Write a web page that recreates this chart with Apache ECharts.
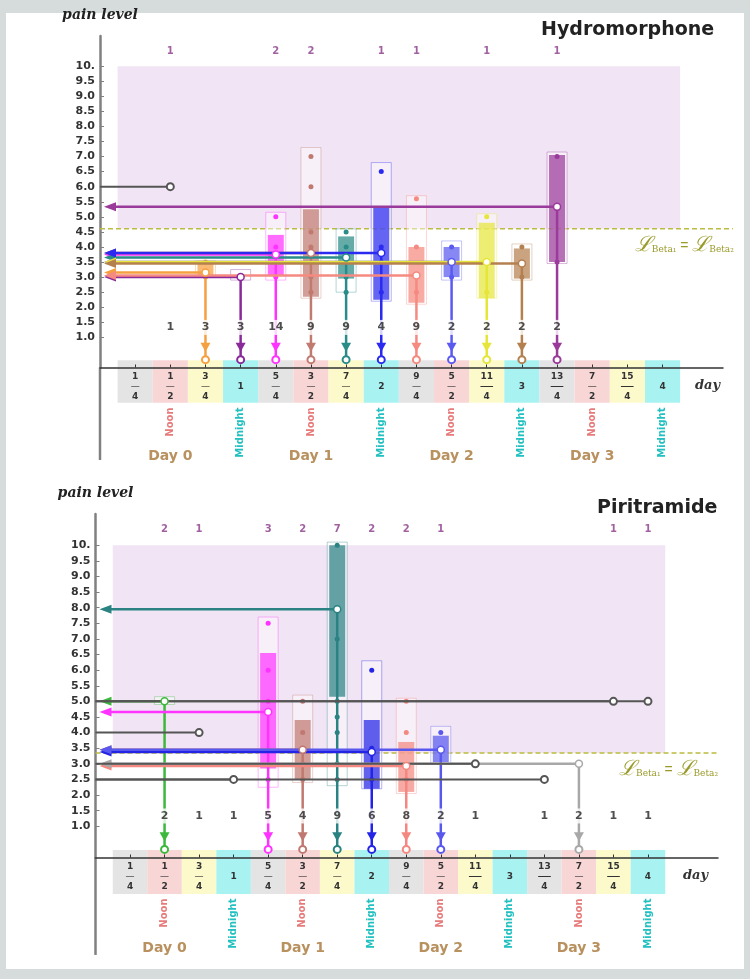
<!DOCTYPE html>
<html>
<head>
<meta charset="utf-8">
<title>Pain level</title>
<script src="https://cdn.jsdelivr.net/npm/echarts@6/dist/echarts.min.js"></script>
<style>
  html, body { margin: 0; padding: 0; background: #d6dbdb; }
  #panel { position: absolute; left: 6px; top: 13px; width: 738px; height: 956px; background: #fff; }
  #chart { position: absolute; left: 0; top: 0; width: 750px; height: 979px; }
</style>
</head>
<body>
<div id="panel"></div>
<div id="chart"></div>
<script>
// shared axes
const xTicks = [0.25, 0.5, 0.75, 1, 1.25, 1.5, 1.75, 2, 2.25, 2.5, 2.75, 3, 3.25, 3.5, 3.75, 4];
const xTickLabels = ["1/4", "1/2", "3/4", "1", "5/4", "3/2", "7/4", "2", "9/4", "5/2", "11/4", "3", "13/4", "7/2", "15/4", "4"];
const yTicks = [1, 1.5, 2, 2.5, 3, 3.5, 4, 4.5, 5, 5.5, 6, 6.5, 7, 7.5, 8, 8.5, 9, 9.5, 10];
const dayMarks = [0.5, 1, 1.5, 2, 2.5, 3, 3.5, 4];
const dayMarkLabels = ["Noon", "Midnight", "Noon", "Midnight", "Noon", "Midnight", "Noon", "Midnight"];
const dayCenters = [0.5, 1.5, 2.5, 3.5];
const dayLabels = ["Day 0", "Day 1", "Day 2", "Day 3"];

// Hydromorphone
const hydroTimes = [0.75, 1, 1.25, 1.5, 1.75, 2, 2.25, 2.5, 2.75, 3, 3.25];
const hydroMedian = [3.15, 3.0, 3.75, 3.8, 3.65, 3.8, 3.05, 3.5, 3.5, 3.45, 5.33];
const hydroQ1 = [3.0, 3.0, 3.05, 2.35, 2.95, 2.25, 2.15, 3.0, 2.3, 2.95, 3.5];
const hydroQ3 = [3.45, 3.0, 4.4, 5.25, 4.35, 5.35, 4.0, 4.0, 4.8, 3.95, 7.05];
const hydroLow = [3.0, 2.9, 2.9, 2.3, 2.5, 2.2, 2.1, 2.9, 2.3, 2.9, 3.45];
const hydroHigh = [3.55, 3.25, 5.15, 7.3, 4.6, 6.8, 5.7, 4.2, 5.1, 4.1, 7.15];
const hydroDots = [[3.5, 3.0], [], [5.0, 4.0, 3.0], [7.0, 6.0, 4.5, 4.0, 3.0, 2.5], [4.5, 4.0, 3.0, 2.5],
  [6.5, 4.0, 3.5, 2.5], [5.6, 4.0, 2.5], [4.0, 3.0], [5.0, 2.5], [4.0, 3.0], [7.0, 3.5]];
const hydroColors = ["#f5a040", "#8a2a9a", "#ff33ff", "#c07a70", "#2a8c88", "#2a2af0", "#f58a80", "#5a5af0", "#e6e63a", "#b58050", "#9a3a9a"];
const hydroSingleX = [0.5];
const hydroSingleY = [6.0];
const hydroCountX = [0.5, 0.75, 1, 1.25, 1.5, 1.75, 2, 2.25, 2.5, 2.75, 3, 3.25];
const hydroCountN = [1, 3, 3, 14, 9, 9, 4, 9, 2, 2, 2, 2];
const hydroTopX = [0.5, 1.25, 1.5, 2, 2.25, 2.75, 3.25];
const hydroTopN = [1, 2, 2, 1, 1, 1, 1];
const hydroThreshold = 4.6;

// Piritramide
const piriTimes = [0.5, 1.25, 1.5, 1.75, 2, 2.25, 2.5, 3.5];
const piriMedian = [5.0, 4.66, 3.45, 7.95, 3.38, 2.93, 3.45, 3.0];
const piriQ1 = [5.0, 2.85, 2.5, 5.15, 2.2, 2.1, 3.05, 3.0];
const piriQ3 = [5.0, 6.55, 4.4, 10.0, 4.4, 3.7, 3.9, 3.0];
const piriLow = [4.9, 2.25, 2.4, 2.3, 2.2, 2.05, 3.0, 3.0];
const piriHigh = [5.15, 7.7, 5.2, 10.1, 6.3, 5.1, 4.2, 3.0];
const piriDots = [[], [7.5, 6.0, 5.0, 2.5], [5.0, 4.0, 3.0, 2.5], [10, 7.0, 5.0, 4.5, 4.0, 3.0, 2.5],
  [6.0, 3.5, 2.5], [5.0, 4.0, 2.5], [4.0, 3.5], []];
const piriColors = ["#3cb83c", "#ff33ff", "#c07870", "#2a8282", "#2424e6", "#f48880", "#5858ee", "#a8a8a8"];
const piriSingleX = [0.75, 1, 2.75, 3.25, 3.75, 4];
const piriSingleY = [4.0, 2.5, 3.0, 2.5, 5.0, 5.0];
const piriCountX = [0.5, 0.75, 1, 1.25, 1.5, 1.75, 2, 2.25, 2.5, 2.75, 3.25, 3.5, 3.75, 4];
const piriCountN = [2, 1, 1, 5, 4, 9, 6, 8, 2, 1, 1, 2, 1, 1];
const piriTopX = [0.5, 0.75, 1.25, 1.5, 1.75, 2, 2.25, 2.5, 3.75, 4];
const piriTopN = [2, 1, 3, 2, 7, 2, 2, 1, 1, 1];
const piriThreshold = 3.35;

const cellColors = ["#e4e4e4", "#f8d6d6", "#fcfacb", "#a8f2f2"];
const COUNT_ROW = 1.33;
const TOP_ROW = 10.5;

function fracLabel(v) {
  const i = xTicks.findIndex(t => Math.abs(t - v) < 1e-6);
  const s = i < 0 ? "" : xTickLabels[i];
  const parts = s.split("/");
  if (parts.length === 1) return "{i|" + s + "}";
  const bar = parts[0].length > 1 ? "{bb|—}" : "{b|—}";
  return "{n|" + parts[0] + "}\n" + bar + "\n{d|" + parts[1] + "}";
}
const numStyle = { fontSize: 9, fontWeight: "bold", lineHeight: 10, color: "#333" };
const fracRich = {
  n: numStyle, d: numStyle,
  b: { fontSize: 9, lineHeight: 10, color: "#333" },
  bb: { fontSize: 14, lineHeight: 10, color: "#333" },
  i: { fontSize: 9, fontWeight: "bold", lineHeight: 30, color: "#333" }
};

function groupRenderer(colors, dots) {
  return function (params, api) {
    const i = params.dataIndex;
    const x = api.value(0), med = api.value(1), q1 = api.value(2), q3 = api.value(3), lo = api.value(4), hi = api.value(5);
    const c = colors[i];
    const P = (a, b) => api.coord([a, b]);
    const pm = P(x, med), pz = P(0, med);
    const ch = [];
    if (hi > lo) {
      const a = P(x, hi), b = P(x, lo);
      ch.push({ type: "rect", z2: 1, shape: { x: a[0] - 10, y: a[1], width: 20, height: b[1] - a[1] },
        style: { fill: "rgba(255,255,255,0.45)", stroke: echarts.color.modifyAlpha(c, 0.35), lineWidth: 1 } });
    }
    if (q3 > q1) {
      const a = P(x, q3), b = P(x, q1);
      ch.push({ type: "rect", z2: 2, shape: { x: a[0] - 8, y: a[1], width: 16, height: b[1] - a[1] },
        style: { fill: echarts.color.modifyAlpha(c, 0.72) } });
    }
    dots[i].forEach(d => {
      const p = P(x, d);
      ch.push({ type: "circle", z2: 3, shape: { cx: p[0], cy: p[1], r: 2.5 }, style: { fill: c } });
    });
    const tip = pz[0] + 4;
    ch.push({ type: "line", z2: 4, shape: { x1: tip + 10, y1: pm[1], x2: pm[0], y2: pm[1] }, style: { stroke: c, lineWidth: 2.5 } });
    ch.push({ type: "polygon", z2: 4, shape: { points: [[tip, pm[1]], [tip + 12, pm[1] - 4.5], [tip + 12, pm[1] + 4.5]] }, style: { fill: c } });
    const pa = P(x, 0.52), pc = P(x, 0.26);
    ch.push({ type: "line", z2: 4, shape: { x1: pm[0], y1: pm[1], x2: pm[0], y2: pc[1] }, style: { stroke: c, lineWidth: 2.5 } });
    ch.push({ type: "polygon", z2: 4, shape: { points: [[pa[0], pa[1]], [pa[0] - 5, pa[1] - 9], [pa[0] + 5, pa[1] - 9]] }, style: { fill: c } });
    ch.push({ type: "circle", z2: 5, shape: { cx: pc[0], cy: pc[1], r: 3.5 }, style: { fill: "#fff", stroke: c, lineWidth: 2 } });
    ch.push({ type: "circle", z2: 6, shape: { cx: pm[0], cy: pm[1], r: 3.5 }, style: { fill: "#fff", stroke: c, lineWidth: 1.5 } });
    return { type: "group", children: ch };
  };
}

function singleRenderer(params, api) {
  const x = api.value(0), y = api.value(1);
  const p0 = api.coord([0, y]), p = api.coord([x, y]);
  return { type: "group", children: [
    { type: "line", z2: 4, shape: { x1: p0[0], y1: p0[1], x2: p[0], y2: p[1] }, style: { stroke: "#555", lineWidth: 2 } },
    { type: "circle", z2: 6, shape: { cx: p[0], cy: p[1], r: 3.5 }, style: { fill: "#fff", stroke: "#555", lineWidth: 2 } }
  ] };
}

const panels = [
  {
    title: "Hydromorphone", titleLeft: 536, titleTop: 16,
    grid: { left: 100, top: 36, width: 623, height: 331.5, outerBoundsMode: "none" },
    xMax: 4.43, yExt: -3.07, dayNameGap: -28, markMargin: 40, dayMargin: 82,
    times: hydroTimes, median: hydroMedian, q1: hydroQ1, q3: hydroQ3, low: hydroLow, high: hydroHigh,
    dots: hydroDots, colors: hydroColors, singleX: hydroSingleX, singleY: hydroSingleY,
    countX: hydroCountX, countN: hydroCountN, topX: hydroTopX, topN: hydroTopN, threshold: hydroThreshold
  },
  {
    title: "Piritramide", titleLeft: 592, titleTop: 494,
    grid: { left: 95.5, top: 514, width: 622.5, height: 343.5, outerBoundsMode: "none" },
    xMax: 4.507, yExt: -3.12, dayNameGap: -35, markMargin: 41, dayMargin: 84,
    times: piriTimes, median: piriMedian, q1: piriQ1, q3: piriQ3, low: piriLow, high: piriHigh,
    dots: piriDots, colors: piriColors, singleX: piriSingleX, singleY: piriSingleY,
    countX: piriCountX, countN: piriCountN, topX: piriTopX, topN: piriTopN, threshold: piriThreshold
  }
];

const option = {
  animation: false,
  textStyle: { fontFamily: "DejaVu Sans" },
  title: [], grid: [], xAxis: [], yAxis: [], series: []
};

panels.forEach((cfg, k) => {
  const xi = 3 * k;
  option.title.push({ text: cfg.title, left: cfg.titleLeft, top: cfg.titleTop,
    textStyle: { fontSize: 19, fontWeight: "bold", color: "#222", fontFamily: "DejaVu Sans" } });
  option.grid.push(cfg.grid);
  option.xAxis.push({
    gridIndex: k, type: "value", min: 0, max: cfg.xMax, position: "bottom", z: 3,
    name: "day", nameLocation: "end", nameGap: cfg.dayNameGap,
    nameTextStyle: { fontFamily: "DejaVu Serif", fontStyle: "italic", fontWeight: "bold", fontSize: 13,
      color: "#333", verticalAlign: "top", padding: [12, 0, 0, 0] },
    axisLine: { onZero: false, lineStyle: { color: "#333", width: 1.5 } },
    axisTick: { customValues: xTicks, inside: true, length: 3, lineStyle: { color: "#333" } },
    axisLabel: { customValues: xTicks, margin: 4, formatter: fracLabel, rich: fracRich },
    splitLine: { show: false }
  });
  option.xAxis.push({
    gridIndex: k, type: "value", min: 0, max: cfg.xMax, position: "bottom",
    axisLine: { show: false, onZero: false }, axisTick: { show: false }, splitLine: { show: false },
    axisLabel: { customValues: dayMarks, rotate: 90, margin: cfg.markMargin,
      formatter: v => {
        const s = dayMarkLabels[dayMarks.indexOf(v)];
        return s === "Noon" ? "{noon|Noon}" : "{mid|" + s + "}";
      },
      rich: { noon: { fontSize: 10, fontWeight: "bold", color: "#e77b7b" },
              mid: { fontSize: 10, fontWeight: "bold", color: "#22c0c0" } } }
  });
  option.xAxis.push({
    gridIndex: k, type: "value", min: 0, max: cfg.xMax, position: "bottom",
    axisLine: { show: false, onZero: false }, axisTick: { show: false }, splitLine: { show: false },
    axisLabel: { customValues: dayCenters, margin: cfg.dayMargin,
      formatter: v => dayLabels[dayCenters.indexOf(v)],
      fontSize: 14, fontWeight: "bold", color: "#b8915f" }
  });
  option.yAxis.push({
    gridIndex: k, type: "value", min: 0, max: 11,
    name: "pain level", nameLocation: "end", nameGap: 14,
    nameTextStyle: { fontFamily: "DejaVu Serif", fontStyle: "italic", fontWeight: "bold", fontSize: 14, color: "#222" },
    axisLine: { show: true, onZero: false, lineStyle: { color: "#808080", width: 2.5 } },
    axisTick: { customValues: yTicks, inside: true, length: 4, lineStyle: { color: "#808080" } },
    axisLabel: { customValues: yTicks, margin: 5, fontSize: 11, fontWeight: "bold", color: "#333",
      formatter: v => (v === 10 ? "10." : v.toFixed(1)) },
    splitLine: { show: false }
  });

  // shaded region, threshold and axis extension
  option.series.push({
    type: "custom", xAxisIndex: xi, yAxisIndex: k, z: 1, silent: true, data: [[0, 0]],
    renderItem: (params, api) => {
      const P = (a, b) => api.coord([a, b]);
      const r1 = P(0.125, 10), r2 = P(4.125, cfg.threshold);
      const d1 = P(0, cfg.threshold), d2 = P(4.5, cfg.threshold);
      const y0 = P(0, 0), y1 = P(0, cfg.yExt);
      return { type: "group", children: [
        { type: "rect", shape: { x: r1[0], y: r1[1], width: r2[0] - r1[0], height: r2[1] - r1[1] }, style: { fill: "#f1e4f4" } },
        { type: "line", shape: { x1: d1[0], y1: d1[1], x2: d2[0], y2: d2[1] },
          style: { stroke: "#bcbc40", lineWidth: 1.5, lineDash: [5, 3] } },
        { type: "line", shape: { x1: y0[0], y1: y0[1], x2: y1[0], y2: y1[1] }, style: { stroke: "#808080", lineWidth: 2.5 } },
        { type: "text", style: {
            x: d2[0] + 1, y: d2[1] + 17, align: "right", verticalAlign: "middle",
            text: "{L|ℒ}{s|Beta₁}{e| = }{L|ℒ}{s|Beta₂}",
            rich: {
              L: { fontSize: 21, fontStyle: "italic", fontFamily: "DejaVu Serif", fill: "#9a9a2a" },
              s: { fontSize: 9, fontFamily: "DejaVu Serif", fill: "#9a9a2a", padding: [8, 0, 0, 0] },
              e: { fontSize: 14, fill: "#9a9a2a" }
            } } }
      ] };
    }
  });
  // coloured cells under the x axis
  option.series.push({
    type: "custom", xAxisIndex: xi, yAxisIndex: k, z: 1, silent: true,
    data: xTicks.map(v => [v, 0]),
    renderItem: (params, api) => {
      const v = api.value(0);
      const a = api.coord([v - 0.125, 0.24]), b = api.coord([v + 0.125, -1.17]);
      return { type: "rect", shape: { x: a[0], y: a[1], width: b[0] - a[0], height: b[1] - a[1] },
        style: { fill: cellColors[params.dataIndex % 4] } };
    }
  });
  // box groups
  option.series.push({
    type: "custom", xAxisIndex: xi, yAxisIndex: k, z: 2,
    data: cfg.times.map((t, i) => [t, cfg.median[i], cfg.q1[i], cfg.q3[i], cfg.low[i], cfg.high[i]]),
    renderItem: groupRenderer(cfg.colors, cfg.dots)
  });
  // single patients
  option.series.push({
    type: "custom", xAxisIndex: xi, yAxisIndex: k, z: 2,
    data: cfg.singleX.map((x, i) => [x, cfg.singleY[i]]),
    renderItem: singleRenderer
  });
  // counts
  option.series.push({
    type: "scatter", xAxisIndex: xi, yAxisIndex: k, z: 4, symbolSize: 1,
    itemStyle: { color: "rgba(0,0,0,0)" },
    data: cfg.countX.map((x, i) => [x, COUNT_ROW, cfg.countN[i]]),
    label: { show: true, position: "inside", formatter: p => p.value[2], fontSize: 11, fontWeight: "bold",
      color: "#222", backgroundColor: "#fff", padding: [2, 2] }
  });
  option.series.push({
    type: "scatter", xAxisIndex: xi, yAxisIndex: k, z: 4, symbolSize: 1,
    itemStyle: { color: "rgba(0,0,0,0)" },
    data: cfg.topX.map((x, i) => [x, TOP_ROW, cfg.topN[i]]),
    label: { show: true, position: "inside", formatter: p => p.value[2], fontSize: 10, fontWeight: "bold", color: "#8a3a8a" }
  });
});

const chart = echarts.init(document.getElementById("chart"));
chart.setOption(option);
</script>
</body>
</html>
